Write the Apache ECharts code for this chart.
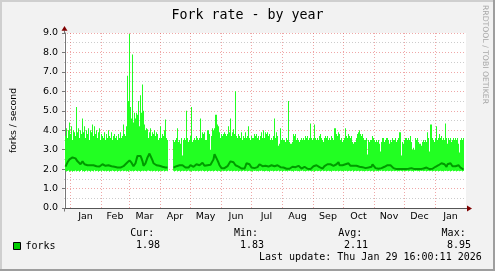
<!DOCTYPE html>
<html><head><meta charset="utf-8">
<script src="https://cdn.jsdelivr.net/npm/echarts@6/dist/echarts.min.js"></script>
<style>html,body{margin:0;padding:0;background:#f2f2f2}#c{width:495px;height:271px}</style>
</head><body><div id="c"></div>
<script>
// Day index 0 = 27 Dec 2024, one value per day (last = 29 Jan 2026)
const months = ['Jan','Feb','Mar','Apr','May','Jun','Jul','Aug','Sep','Oct','Nov','Dec','Jan'];
const monthBounds = [5,36,64,95,125,156,186,217,248,278,309,339,370,401];
const yTicks = [0,1,2,3,4,5,6,7,8,9];

const maxVals = [
3.7,4.1,3.6,4.0,4.4,3.8,4.2,3.5,4.0,3.9,
3.7,5.2,3.9,4.1,3.6,4.0,3.8,4.6,3.9,4.2,
3.6,4.0,3.8,4.1,3.5,4.0,3.9,4.3,3.7,4.2,
3.8,4.0,3.6,3.9,4.1,3.5,3.8,3.7,3.6,3.9,
3.5,3.8,3.6,4.0,3.7,3.6,3.9,3.5,3.7,3.8,
3.6,3.7,3.5,3.8,3.6,3.9,3.6,3.7,4.3,3.8,
3.7,4.2,6.8,5.5,8.95,5.2,4.6,7.9,4.4,4.9,
4.6,4.9,4.8,5.5,4.2,5.8,4.9,6.35,5.0,4.3,
4.0,4.1,4.05,3.6,3.9,4.1,3.7,3.9,3.8,4.0,
3.7,3.9,3.8,3.5,3.6,4.2,3.6,3.8,3.7,4.0,
4.55,3.6,3.5,null,null,null,null,null,3.5,3.4,
3.5,3.6,4.1,3.4,3.5,3.3,3.6,2.7,3.5,3.6,
3.5,5.0,3.6,3.4,3.5,3.7,5.2,3.4,3.5,3.6,
3.5,3.7,3.6,3.5,3.6,4.6,3.6,3.9,3.8,3.9,
3.5,3.5,4.0,4.0,3.8,3.0,3.7,4.1,4.0,4.1,
4.8,4.8,4.3,4.2,3.9,3.6,3.8,3.7,3.8,3.9,
3.8,3.7,3.8,4.2,3.9,4.6,3.7,3.9,4.05,3.8,
6.0,3.7,3.6,3.8,3.7,3.6,3.9,3.5,3.7,3.6,
3.9,3.6,3.7,4.2,3.6,3.5,3.7,3.6,3.6,3.8,
3.7,3.8,3.6,3.7,3.5,3.7,3.9,3.6,4.0,3.6,
3.9,3.8,3.9,3.7,3.8,3.5,3.6,3.5,3.7,4.6,
3.6,3.9,3.7,3.2,3.3,4.1,3.5,3.6,3.5,3.5,
3.4,3.6,3.5,5.5,3.4,3.3,3.3,3.4,3.8,3.7,
3.8,3.5,3.6,3.5,3.4,3.5,3.6,3.5,3.6,3.5,
3.7,3.6,3.7,3.5,3.6,4.35,3.6,3.5,3.6,4.3,
3.6,3.5,3.6,3.5,3.7,3.8,3.6,3.5,3.4,3.6,
3.7,3.6,3.7,3.5,3.6,3.5,3.7,3.6,3.5,4.1,
4.1,3.8,3.7,3.9,3.8,3.5,3.6,3.4,3.5,3.6,
4.1,3.7,3.6,3.8,3.7,3.6,3.7,3.4,3.3,3.4,
3.4,3.6,3.8,3.9,4.0,3.8,3.7,3.8,3.6,3.5,
3.5,3.6,2.75,3.5,3.4,3.5,3.5,3.7,3.6,3.5,
3.4,3.5,3.4,3.5,3.3,2.9,3.4,3.6,3.6,3.4,
3.5,3.6,3.6,3.5,3.3,3.5,3.4,3.6,3.5,3.5,
3.6,3.4,3.5,3.6,3.9,3.9,2.7,3.4,3.3,3.5,
3.6,3.6,3.5,3.6,3.5,3.7,3.4,3.0,3.1,3.0,
3.6,3.5,3.6,3.4,3.3,3.3,3.2,3.4,3.5,3.4,
3.5,3.4,3.9,3.6,2.9,4.3,4.3,3.6,3.5,3.4,
3.6,4.2,3.5,3.6,3.8,3.6,3.7,3.5,3.6,3.5,
4.35,3.6,3.3,3.6,3.5,3.6,3.4,3.5,3.6,3.5,
3.6,3.5,3.6,3.3,2.85,3.5,3.6,3.5,3.6
];

const avgVals = [
2.13,2.2,2.35,2.45,2.5,2.55,2.6,2.6,2.55,2.6,
2.55,2.5,2.4,2.35,2.3,2.25,2.3,2.4,2.35,2.25,
2.17,2.15,2.2,2.2,2.25,2.2,2.15,2.2,2.2,2.25,
2.2,2.15,2.15,2.1,2.13,2.15,2.2,2.25,2.2,2.15,
2.17,2.15,2.17,2.2,2.15,2.17,2.15,2.1,2.13,2.12,
2.13,2.1,2.08,2.08,2.06,2.08,2.1,2.08,2.15,2.2,
2.25,2.3,2.35,2.3,2.45,2.35,2.33,2.4,2.15,2.08,
2.3,2.5,2.68,2.7,2.6,2.68,2.55,2.4,2.17,2.2,
2.3,2.45,2.6,2.7,2.8,2.85,2.75,2.45,2.3,2.25,
2.22,2.2,2.2,2.17,2.17,2.15,2.17,2.12,2.1,2.08,
2.08,2.06,2.08,null,null,null,null,null,2.08,2.1,
2.12,2.15,2.12,2.15,2.2,2.2,2.22,2.2,2.2,2.15,
2.08,2.08,2.1,2.08,2.12,2.2,2.15,2.12,2.12,2.15,
2.2,2.25,2.3,2.3,2.2,2.17,2.25,2.33,2.25,2.17,
2.17,2.15,2.2,2.2,2.2,2.22,2.2,2.3,2.5,2.77,
2.85,2.7,2.45,2.33,2.2,2.15,2.05,2.03,2.03,2.05,
2.1,2.12,2.15,2.2,2.25,2.4,2.47,2.45,2.35,2.25,
2.2,2.13,2.12,2.13,2.1,2.05,2.03,2.03,2.05,2.03,
2.15,2.3,2.4,2.38,2.25,2.15,2.08,2.08,2.06,2.05,
2.0,2.0,2.1,2.2,2.25,2.25,2.2,2.15,2.12,2.15,
2.17,2.15,2.13,2.13,2.12,2.15,2.2,2.2,2.15,2.15,
2.17,2.2,2.2,2.17,2.12,2.1,2.08,2.08,2.08,2.08,
2.06,2.02,2.0,2.0,2.02,2.05,2.1,2.12,2.13,2.12,
2.1,2.12,2.15,2.17,2.12,2.08,2.03,2.05,2.1,2.12,
2.12,2.08,2.02,2.0,2.0,2.0,2.02,2.08,2.15,2.2,
2.2,2.2,2.15,2.12,2.1,2.05,2.02,2.02,2.05,2.15,
2.2,2.25,2.25,2.3,2.25,2.25,2.25,2.2,2.17,2.2,
2.25,2.25,2.3,2.36,2.2,2.15,2.17,2.2,2.13,2.12,
2.25,2.3,2.3,2.3,2.2,2.17,2.15,2.17,2.17,2.2,
2.2,2.17,2.15,2.12,2.12,2.13,2.12,2.1,2.08,2.05,
2.05,2.08,2.08,2.08,2.1,2.08,2.12,2.25,2.3,2.25,
2.05,2.0,2.0,2.02,2.03,2.05,2.05,2.08,2.1,2.12,
2.15,2.17,2.2,2.2,2.22,2.2,2.2,2.15,2.05,2.0,
2.0,2.0,2.0,1.98,2.0,2.0,2.0,2.0,2.0,2.0,
2.0,2.0,2.0,2.02,2.02,2.03,2.05,2.03,2.02,2.0,
2.0,2.0,2.0,2.0,2.0,2.0,2.02,2.02,2.03,2.03,
2.05,2.08,2.05,2.02,2.0,2.0,2.0,2.02,2.03,2.05,
2.12,2.17,2.17,2.2,2.25,2.3,2.3,2.3,2.3,2.25,
2.15,2.12,2.25,2.3,2.3,2.3,2.25,2.15,2.12,2.13,
2.15,2.2,2.25,2.2,2.12,2.08,2.05,2.0,1.98
];

const minVals = [
1.92,1.88,1.9,1.93,1.87,1.9,1.91,1.86,1.9,1.89,
1.93,1.88,1.9,1.92,1.87,1.9,1.95,1.88,1.9,1.86,
1.9,1.93,1.88,1.91,1.9,1.87,1.92,1.9,1.88,1.94,
1.89,1.9,1.92,1.87,1.9,1.91,1.88,1.93,1.9,1.89,
1.91,1.88,1.9,1.92,1.86,1.9,1.89,1.93,1.9,1.88,
1.9,1.92,1.87,1.9,1.91,1.88,1.9,1.93,1.89,1.9,
1.92,1.88,1.9,1.87,1.93,1.9,1.89,1.91,1.88,1.9,
1.93,1.9,1.88,1.92,1.9,1.87,1.9,1.91,1.89,1.92,
1.9,1.88,1.91,1.93,1.9,1.89,1.92,1.88,1.9,1.91,
1.88,1.9,1.92,1.87,1.9,1.91,1.89,1.9,1.93,1.88,
1.9,1.92,1.89,null,null,null,null,null,1.91,1.88,
1.9,1.93,1.88,1.9,1.91,1.87,1.9,1.92,1.89,1.9,
1.91,1.88,1.9,1.93,1.89,1.9,1.87,1.91,1.9,1.92,
1.89,1.9,1.92,1.88,1.9,1.91,1.89,1.93,1.9,1.88,
1.9,1.92,1.87,1.9,1.91,1.89,1.9,1.92,1.88,1.9,
1.93,1.9,1.88,1.91,1.9,1.87,1.9,1.92,1.89,1.9,
1.91,1.88,1.9,1.93,1.89,1.9,1.92,1.88,1.9,1.91,
1.89,1.9,1.92,1.87,1.9,1.91,1.88,1.9,1.93,1.89,
1.9,1.91,1.88,1.9,1.92,1.89,1.9,1.87,1.91,1.9,
1.92,1.89,1.9,1.88,1.91,1.9,1.93,1.89,1.9,1.88,
1.9,1.92,1.89,1.9,1.87,1.91,1.9,1.92,1.88,1.9,
1.91,1.89,1.9,1.93,1.88,1.9,1.91,1.87,1.9,1.92,
1.89,1.9,1.88,1.91,1.9,1.92,1.89,1.9,1.87,1.91,
1.9,1.92,1.89,1.9,1.88,1.91,1.9,1.93,1.89,1.9,
1.88,1.9,1.91,1.89,1.92,1.9,1.88,1.9,1.91,1.87,
1.9,1.92,1.89,1.9,1.91,1.88,1.9,1.93,1.89,1.9,
1.91,1.88,1.9,1.92,1.89,1.9,1.87,1.91,1.9,1.92,
1.89,1.9,1.91,1.88,1.9,1.92,1.89,1.9,1.88,1.91,
1.9,1.92,1.88,1.9,1.91,1.89,1.9,1.93,1.87,1.9,
1.91,1.89,1.9,1.92,1.88,1.9,1.91,1.89,1.9,1.88,
1.9,1.91,1.89,1.9,1.92,1.88,1.9,1.91,1.87,1.9,
1.92,1.89,1.9,1.88,1.91,1.9,1.93,1.89,1.9,1.91,
1.88,1.9,1.92,1.89,1.9,1.91,1.88,1.9,1.92,1.89,
1.9,1.91,1.88,1.9,1.89,1.92,1.9,1.88,1.91,1.9,
1.89,1.9,1.92,1.88,1.9,1.91,1.89,1.9,1.87,1.91,
1.9,1.92,1.89,1.9,1.88,1.91,1.9,1.92,1.89,1.9,
1.91,1.88,1.9,1.92,1.89,1.9,1.91,1.88,1.9,1.92,
1.89,1.9,1.91,1.88,1.9,1.92,1.89,1.9,1.88,1.91,
1.9,1.92,1.89,1.9,1.91,1.88,1.9,1.93,1.89,1.9,
1.91,1.88,1.9,1.92,1.89,1.9,1.91,1.88,1.9
];

const statLabels = ['Cur:','Min:','Avg:','Max:'];
const statValues = ['1.98','1.83','2.11','8.95'];
const lastUpdate = 'Last update: Thu Jan 29 16:00:11 2026';

const chart = echarts.init(document.getElementById('c'), null, {renderer:'canvas'});

const monthMid = {};
const labelVals = [];
for (let k = 0; k < months.length; k++) {
  const m = (monthBounds[k] + monthBounds[k+1]) / 2;
  monthMid[m] = months[k];
  labelVals.push(m);
}

// envelope: [dayStart, min, max]
const envData = maxVals.map((v,i)=>[i, minVals[i] == null ? '-' : minVals[i], v == null ? '-' : v]);
const avgData = avgVals.map((v,i)=>[i+0.5, v == null ? '-' : v]);

const sans = 'DejaVu Sans';
const mono = 'DejaVu Sans Mono';
const MGRID = 'rgba(224,80,80,0.5)';

function renderEnv(params, api) {
  const lo = api.value(1), hi = api.value(2), d = api.value(0);
  if (isNaN(lo) || isNaN(hi)) return null;
  const p0 = api.coord([d, hi]);
  const p1 = api.coord([d + 1, lo]);
  return {
    type: 'rect',
    shape: {x: p0[0], y: p0[1], width: p1[0] - p0[0], height: p1[1] - p0[1]},
    style: {fill: '#22ff22'}
  };
}

const option = {
  animation: false,
  backgroundColor: '#f2f2f2',
  title: {
    text: 'Fork rate - by year', left: 'center', top: 4,
    textStyle: {fontFamily: mono, fontSize: 13.3, fontWeight: 'normal', color: '#000'}
  },
  grid: {left: 64, right: 29, top: 33, bottom: 63, show: true, backgroundColor: '#fff', borderWidth: 0},
  legend: {
    data: [{name: 'forks', icon: 'rect'}],
    left: 13, top: 241, padding: 0, itemWidth: 7, itemHeight: 7, selectedMode: false,
    itemStyle: {color: '#00cc00', borderColor: '#000', borderWidth: 1},
    textStyle: {fontFamily: mono, fontSize: 10, color: '#000'}
  },
  xAxis: {
    type: 'value', min: -1, max: 401,
    axisLine: {show: true, lineStyle: {color: '#555', width: 1}},
    axisTick: {show: false},
    splitLine: {show: false},
    axisLabel: {
      customValues: labelVals, margin: 4,
      fontFamily: sans, fontSize: 9.5, color: '#000',
      formatter: v => monthMid[v] || ''
    }
  },
  yAxis: {
    type: 'value', min: 0, max: 9, interval: 1,
    name: 'forks / second', nameLocation: 'middle', nameGap: 46,
    nameTextStyle: {fontFamily: sans, fontSize: 9.3, color: '#000'},
    axisLine: {show: true, lineStyle: {color: '#777', width: 1}},
    axisTick: {show: true, length: 3, lineStyle: {color: '#777'}},
    axisLabel: {margin: 6, fontFamily: sans, fontSize: 9.5, color: '#000', formatter: v => v.toFixed(1)},
    splitLine: {show: true, lineStyle: {color: MGRID, type: [1,2], width: 1}},
    minorTick: {show: false, splitNumber: 2},
    minorSplitLine: {show: true, lineStyle: {color: '#cccccc', type: [1,2], width: 1}}
  },
  series: [
    {
      name: 'envelope', type: 'custom', renderItem: renderEnv, data: envData,
      encode: {x: 0, y: [1, 2]}, z: 2, silent: true,
      markLine: {
        silent: true, symbol: ['none','none'], label: {show: false}, z: 1,
        lineStyle: {color: MGRID, type: [1,2], width: 1},
        data: monthBounds.slice(0, 13).map(d => ({xAxis: d}))
      }
    },
    {
      name: 'forks', type: 'line', data: avgData, showSymbol: false, z: 3,
      connectNulls: false,
      lineStyle: {color: '#009a00', width: 2}, itemStyle: {color: '#00cc00'}
    }
  ]
};
chart.setOption(option);

const bl = chart.convertToPixel({gridIndex: 0}, [-1, 0]);
const tr = chart.convertToPixel({gridIndex: 0}, [401, 9]);
const ax = Math.round(bl[0]) + 0.5, ay = Math.round(bl[1]) + 0.5;
const plotTop = tr[1], plotRight = tr[0];

const g = [];
// frame
g.push({type:'rect', shape:{x:0,y:0,width:495,height:2}, style:{fill:'#cfcfcf'}, silent:true});
g.push({type:'rect', shape:{x:0,y:0,width:2,height:271}, style:{fill:'#cfcfcf'}, silent:true});
g.push({type:'rect', shape:{x:0,y:269,width:495,height:2}, style:{fill:'#9e9e9e'}, silent:true});
g.push({type:'rect', shape:{x:493,y:0,width:2,height:271}, style:{fill:'#9e9e9e'}, silent:true});
// axis extensions + arrows
g.push({type:'line', shape:{x1:ax,y1:plotTop,x2:ax,y2:plotTop-2.5}, style:{stroke:'#777',lineWidth:1}, silent:true});
g.push({type:'line', shape:{x1:ax,y1:ay,x2:ax,y2:ay+3}, style:{stroke:'#777',lineWidth:1}, silent:true});
g.push({type:'polygon', shape:{points:[[ax-3,plotTop-2.3],[ax+3,plotTop-2.3],[ax,plotTop-7]]}, style:{fill:'#7f0000'}, silent:true});
g.push({type:'line', shape:{x1:plotRight,y1:ay,x2:plotRight+1.5,y2:ay}, style:{stroke:'#555',lineWidth:1}, silent:true});
g.push({type:'polygon', shape:{points:[[plotRight+1,ay-3],[plotRight+1,ay+3],[plotRight+6,ay]]}, style:{fill:'#7f0000'}, silent:true});
// stats
const statX = [130.3, 234, 338.3, 441.6];
const valX = [136, 240, 344, 447];
for (let k = 0; k < 4; k++) {
  g.push({type:'text', x: statX[k], y: 233.7, silent:true,
    style:{text: statLabels[k], font: '10px ' + mono, fill:'#000', textAlign:'left', textVerticalAlign:'middle'}});
  g.push({type:'text', x: valX[k], y: 245.7, silent:true,
    style:{text: statValues[k], font: '10px ' + mono, fill:'#000', textAlign:'left', textVerticalAlign:'middle'}});
}
g.push({type:'text', x: 259, y: 257.3, silent:true,
  style:{text: lastUpdate, font: '10px ' + mono, fill:'#000', textAlign:'left', textVerticalAlign:'middle'}});
// watermark
g.push({type:'text', x: 485, y: 5, rotation: -Math.PI/2, silent:true,
  style:{text: 'RRDTOOL / TOBI OETIKER', font: '7.7px ' + sans, fill:'#a8a8a8', textAlign:'left', textVerticalAlign:'middle'}});

chart.setOption({graphic: {elements: g}});
</script>
</body></html>
